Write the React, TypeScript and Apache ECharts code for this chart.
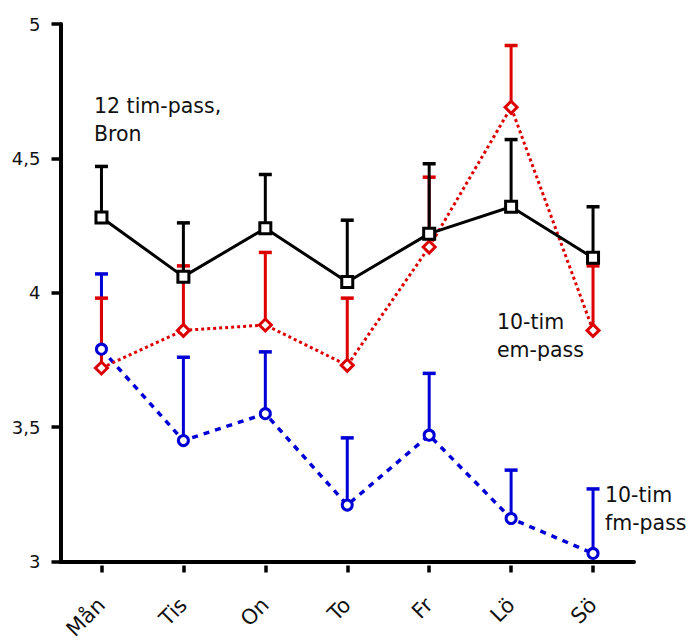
import { useEffect, useRef } from "react";
import * as echarts from "echarts";

// Weekday categories (Swedish)
const days = ["Mån", "Tis", "On", "To", "Fr", "Lö", "Sö"];

// 12-hour shift, Bron: mean and upper error
const bronMean = [4.28, 4.06, 4.24, 4.04, 4.22, 4.32, 4.13];
const bronErr = [0.19, 0.2, 0.2, 0.23, 0.26, 0.25, 0.19];

// 10-hour afternoon shift (em-pass)
const emMean = [3.72, 3.86, 3.88, 3.73, 4.17, 4.69, 3.86];
const emErr = [0.26, 0.24, 0.27, 0.25, 0.26, 0.23, 0.24];

// 10-hour morning shift (fm-pass)
const fmMean = [3.79, 3.45, 3.55, 3.21, 3.47, 3.16, 3.03];
const fmErr = [0.28, 0.31, 0.23, 0.25, 0.23, 0.18, 0.24];

const yMin = 3;
const yMax = 5;
const yStep = 0.5;

const FONT = "DejaVu Sans";
const BLACK = "#000000";
const RED = "#dd0000";
const BLUE = "#0000d6";

// One-sided (upper) error bars with a cap
function errorBars(mean: number[], err: number[], color: string, z: number) {
  return {
    type: "custom",
    xAxisIndex: 0,
    yAxisIndex: 0,
    z,
    silent: true,
    data: mean.map((m, i) => [i, m, +(m + err[i]).toFixed(3)]),
    encode: { x: 0, y: [1, 2] },
    renderItem: (_params: any, api: any) => {
      const base = api.coord([api.value(0), api.value(1)]);
      const top = api.coord([api.value(0), api.value(2)]);
      const half = 6.5;
      return {
        type: "group",
        children: [
          {
            type: "line",
            shape: { x1: base[0], y1: base[1], x2: top[0], y2: top[1] },
            style: { stroke: color, lineWidth: 3 },
          },
          {
            type: "line",
            shape: { x1: top[0] - half, y1: top[1], x2: top[0] + half, y2: top[1] },
            style: { stroke: color, lineWidth: 3.5 },
          },
        ],
      };
    },
  };
}

function annotation(text: string, x: number, y: number) {
  return {
    type: "text",
    x,
    y,
    style: {
      text,
      fill: "#111",
      font: `20.5px "${FONT}"`,
      textAlign: "left",
      textVerticalAlign: "middle",
    },
  };
}

export default function App() {
  const ref = useRef<HTMLDivElement>(null);

  useEffect(() => {
    document.body.style.margin = "0";
    if (!ref.current) return;
    const chart = echarts.init(ref.current, null, { renderer: "svg" });
    chart.setOption({
      animation: false,
      backgroundColor: "#ffffff",
      grid: {
        left: 60.5,
        right: 54,
        top: 24,
        bottom: 78.5,
        containLabel: false,
        outerBoundsMode: "none",
      },
      xAxis: [
        {
          type: "category",
          data: days,
          boundaryGap: true,
          axisLine: { show: true, lineStyle: { color: BLACK, width: 4 } },
          axisTick: { show: false },
          axisLabel: { show: false },
          splitLine: { show: false },
        },
        {
          type: "category",
          data: days,
          position: "bottom",
          offset: 4,
          boundaryGap: true,
          axisLine: { show: false },
          axisTick: {
            show: true,
            alignWithLabel: true,
            length: 7,
            lineStyle: { color: BLACK, width: 3.5 },
          },
          axisLabel: {
            show: true,
            rotate: 45,
            margin: 36,
            fontFamily: FONT,
            fontSize: 21,
            color: "#111",
          },
          splitLine: { show: false },
        },
      ],
      yAxis: {
        type: "value",
        min: yMin,
        max: yMax,
        interval: yStep,
        axisLine: { show: true, lineStyle: { color: BLACK, width: 4 } },
        axisTick: { show: true, length: 9, lineStyle: { color: BLACK, width: 3.5 } },
        axisLabel: {
          margin: 20,
          fontFamily: FONT,
          fontSize: 18,
          color: "#111",
          formatter: (v: number) => String(v).replace(".", ","),
        },
        splitLine: { show: false },
      },
      series: [
        errorBars(fmMean, fmErr, BLUE, 2),
        errorBars(emMean, emErr, RED, 2),
        errorBars(bronMean, bronErr, BLACK, 2),
        {
          name: "10-tim fm-pass",
          type: "line",
          xAxisIndex: 0,
          data: fmMean,
          z: 4,
          symbol: "circle",
          symbolSize: 10,
          showSymbol: true,
          lineStyle: { color: BLUE, width: 3.5, type: [6, 6] },
          itemStyle: { color: "#ffffff", borderColor: BLUE, borderWidth: 3 },
        },
        {
          name: "10-tim em-pass",
          type: "line",
          xAxisIndex: 0,
          data: emMean,
          z: 5,
          symbol: "diamond",
          symbolSize: 12,
          showSymbol: true,
          lineStyle: { color: RED, width: 3, type: [3, 3] },
          itemStyle: { color: "#ffffff", borderColor: RED, borderWidth: 3 },
        },
        {
          name: "12 tim-pass, Bron",
          type: "line",
          xAxisIndex: 0,
          data: bronMean,
          z: 6,
          symbol: "rect",
          symbolSize: 11,
          showSymbol: true,
          lineStyle: { color: BLACK, width: 3 },
          itemStyle: { color: "#ffffff", borderColor: BLACK, borderWidth: 3 },
        },
      ],
      graphic: [
        annotation("12 tim-pass,", 94, 106),
        annotation("Bron", 94, 134),
        annotation("10-tim", 497, 322),
        annotation("em-pass", 497, 350),
        annotation("10-tim", 605, 495),
        annotation("fm-pass", 605, 523),
      ],
    });
    return () => chart.dispose();
  }, []);

  return (
    <div
      ref={ref}
      style={{ position: "absolute", left: 0, top: 0, width: 688, height: 640 }}
    />
  );
}
